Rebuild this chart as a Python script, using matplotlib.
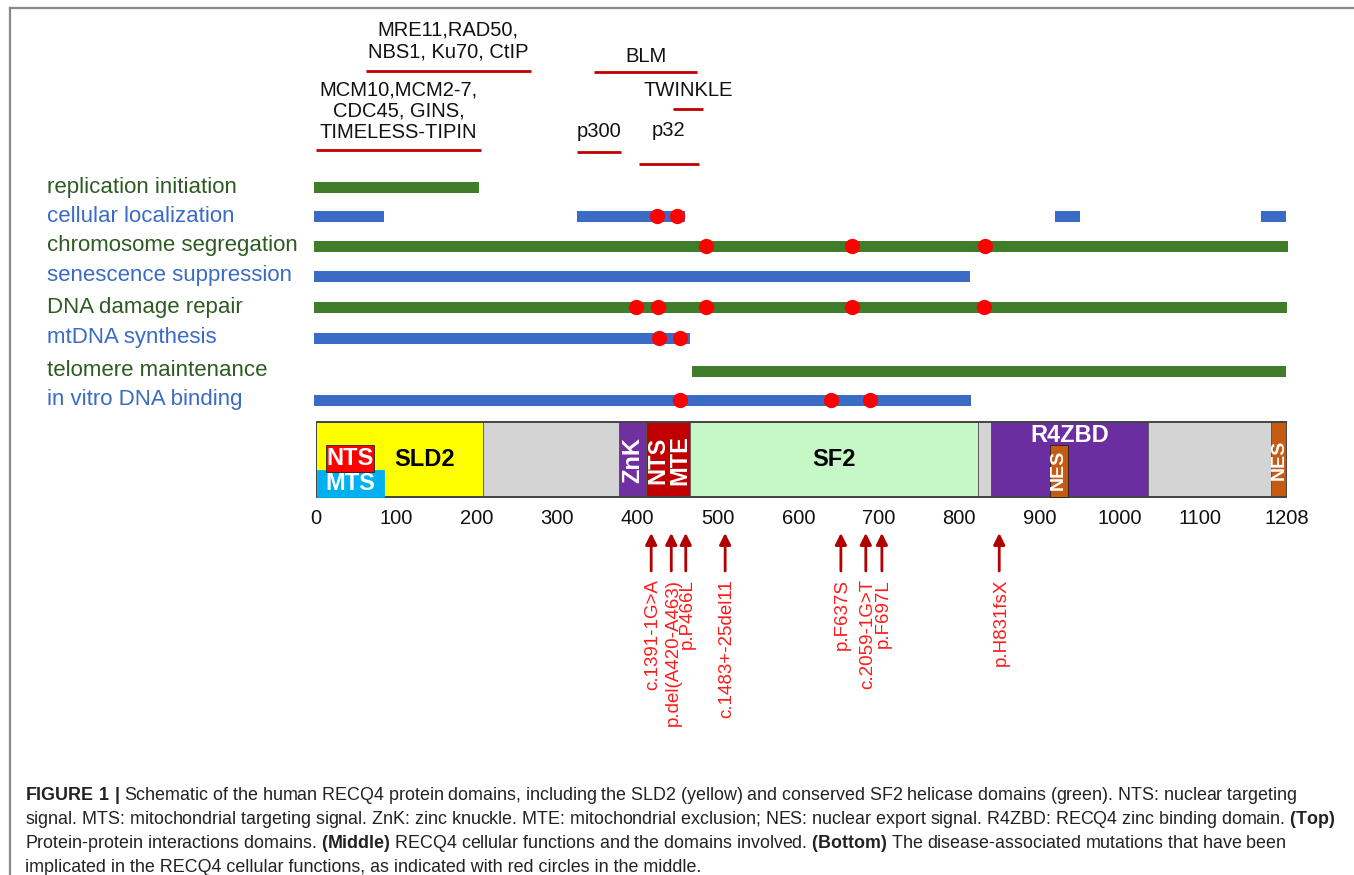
import matplotlib
matplotlib.use("Agg")
import matplotlib.pyplot as plt
from matplotlib.patches import Rectangle
from matplotlib.lines import Line2D

plt.rcParams['font.family'] = ['Liberation Sans', 'DejaVu Sans']
plt.rcParams['mathtext.fontset'] = 'custom'
plt.rcParams['mathtext.rm'] = 'Liberation Sans'
plt.rcParams['mathtext.bf'] = 'Liberation Sans:bold'

# --- data (residue numbers) ---
protein_length = 1208
tick_values = [0, 100, 200, 300, 400, 500, 600, 700, 800, 900, 1000, 1100, 1208]

interaction_labels = ["MRE11,RAD50,\nNBS1, Ku70, CtIP", "BLM", "TWINKLE",
                      "MCM10,MCM2-7,\nCDC45, GINS,\nTIMELESS-TIPIN", "p300", "p32"]
interaction_start = [62, 346, 444, 0, 325, 402]
interaction_end = [267, 474, 481, 205, 379, 476]

function_names = ["replication initiation", "cellular localization",
                  "chromosome segregation", "senescence suppression",
                  "DNA damage repair", "mtDNA synthesis",
                  "telomere maintenance", "in vitro DNA binding"]
function_segments = [
    [(-3, 203)],
    [(-3, 85), (325, 459), (919, 950), (1176, 1207)],
    [(-3, 1209)],
    [(-3, 814)],
    [(-3, 1208)],
    [(-3, 465)],
    [(468, 1207)],
    [(-3, 815)],
]
function_mutations = [
    [],
    [424, 449],
    [485, 667, 832],
    [],
    [398, 425, 485, 667, 831],
    [427, 453],
    [],
    [453, 641, 689],
]

domain_names = ["SLD2", "", "ZnK", "NTS\nMTE", "SF2", "", "R4ZBD", "", "NES"]
domain_start = [0, 208, 377, 410, 465, 823, 840, 1035, 1188]
domain_end = [208, 377, 410, 465, 823, 840, 1035, 1188, 1208]

signal_names = ["MTS", "NTS", "NES"]
signal_start = [1, 12, 913]
signal_end = [85, 72, 935]

mutation_labels = ["c.1391-1G>A", "p.del(A420-A463)", "p.P466L", "c.1483+-25del11",
                   "p.F637S", "c.2059-1G>T", "p.F697L", "p.H831fsX"]
mutation_pos = [417, 442, 460, 509, 653, 684, 704, 850]

caption_lines = [
    r"$\mathbf{FIGURE\ 1\ |}$ Schematic of the human RECQ4 protein domains, including the SLD2 (yellow) and conserved SF2 helicase domains (green). NTS: nuclear targeting",
    r"signal. MTS: mitochondrial targeting signal. ZnK: zinc knuckle. MTE: mitochondrial exclusion; NES: nuclear export signal. R4ZBD: RECQ4 zinc binding domain. $\mathbf{(Top)}$",
    r"Protein-protein interactions domains. $\mathbf{(Middle)}$ RECQ4 cellular functions and the domains involved. $\mathbf{(Bottom)}$ The disease-associated mutations that have been",
    r"implicated in the RECQ4 cellular functions, as indicated with red circles in the middle.",
]

# --- styles / layout (y in pixels from top) ---
GREEN, BLUE = '#3f7d2b', '#3a6cc6'
GREEN_TXT, BLUE_TXT = '#2e5b22', '#3a6bc5'
LINE_RED = '#c00000'
domain_colors = ['#ffff00', '#d4d4d4', '#7030a0', '#c00000', '#c6f7c6',
                 '#d4d4d4', '#6a2ea0', '#d4d4d4', '#c55a11']
signal_colors = ['#00b0f0', '#ff0000', '#c55a11']

W, H = 1354, 875
fig = plt.figure(figsize=(W / 100, H / 100), dpi=100)
ax = fig.add_axes([316 / W, 0, 971 / W, 1])
ax.set_xlim(0, protein_length)
ax.set_ylim(H, 0)
ax.axis('off')

# frame
fig.add_artist(Line2D([9.5 / W, 9.5 / W], [0, 1 - 7.5 / H], transform=fig.transFigure,
                      color='#888888', lw=1.6))
fig.add_artist(Line2D([9.5 / W, 1], [1 - 7.5 / H, 1 - 7.5 / H], transform=fig.transFigure,
                      color='#888888', lw=1.6))

# --- top: protein-protein interactions ---
inter_line_y = [71, 72, 109, 150, 152, 164]
inter_text_y = [57, 62, 96, 138, 137, 136]
for lab, s, e, ly, ty in zip(interaction_labels, interaction_start, interaction_end,
                             inter_line_y, inter_text_y):
    ax.plot([s, e], [ly, ly], color=LINE_RED, lw=2.0, solid_capstyle='butt', clip_on=False)
    ax.text((s + e) / 2, ty, lab, ha='center', va='baseline', fontsize=14.5,
            linespacing=1.15, color='#111111')

# --- middle: cellular functions ---
row_y = [187, 216, 246, 276, 307, 338, 371, 400]
for i, (name, segs, muts) in enumerate(zip(function_names, function_segments,
                                           function_mutations)):
    col = GREEN if i % 2 == 0 else BLUE
    tcol = GREEN_TXT if i % 2 == 0 else BLUE_TXT
    y = row_y[i]
    for s, e in segs:
        ax.barh(y, e - s, left=s, height=11, color=col, clip_on=False)
    if muts:
        ax.plot(muts, [y] * len(muts), 'o', color='#ff0000', ms=11, mec='none',
                clip_on=False)
    fig.text(47 / W, 1 - y / H, name, ha='left', va='center', fontsize=16, color=tcol)

# --- domain bar ---
bar_top, bar_bot = 422, 497
for name, s, e, c in zip(domain_names, domain_start, domain_end, domain_colors):
    ax.add_patch(Rectangle((s, bar_top), e - s, bar_bot - bar_top, facecolor=c,
                           edgecolor='#555555', lw=0.6))
ax.add_patch(Rectangle((0, bar_top), protein_length, bar_bot - bar_top, facecolor='none',
                       edgecolor='#444444', lw=1.4))

sig_y = [(470, 497), (445, 472), (445, 497)]
for name, s, e, c, (t, b) in zip(signal_names, signal_start, signal_end, signal_colors, sig_y):
    ax.add_patch(Rectangle((s, t), e - s, b - t, facecolor=c,
                           edgecolor='#222222' if name != 'MTS' else c, lw=0.6))

bold = dict(fontweight='bold', ha='center', va='center', fontsize=17)
ax.text(135, 460, domain_names[0], color='black', **bold)
ax.text((domain_start[2] + domain_end[2]) / 2, 460, domain_names[2], color='white',
        rotation=90, **bold)
ax.text((domain_start[3] + domain_end[3]) / 2 + 1, 460, domain_names[3], color='white',
        rotation=90, linespacing=0.95, **bold)
ax.text((domain_start[4] + domain_end[4]) / 2, 460, domain_names[4], color='black', **bold)
ax.text((domain_start[6] + domain_end[6]) / 2, 435, domain_names[6], color='white', **bold)
ax.text((domain_start[8] + domain_end[8]) / 2, 460, domain_names[8], color='white',
        rotation=90, **dict(bold, fontsize=14))
for name, s, e, (t, b) in zip(signal_names, signal_start, signal_end, sig_y):
    if name == 'NES':
        ax.text((s + e) / 2, 470, name, color='white', rotation=90,
                **dict(bold, fontsize=14))
    else:
        ax.text((s + e) / 2, (t + b) / 2, name, color='white', **bold)

for v in tick_values:
    ax.text(v, 518, str(v), ha='center', va='center', fontsize=14.5, color='#111111')

# --- bottom: mutations ---
for lab, p in zip(mutation_labels, mutation_pos):
    ax.annotate('', xy=(p, 533), xytext=(p, 571),
                arrowprops=dict(arrowstyle='-|>', color='#b00000', lw=2.0,
                                mutation_scale=17, shrinkA=0, shrinkB=0),
                annotation_clip=False)
    ax.text(p + 2, 579, lab, rotation=90, ha='center', va='top', fontsize=13.5,
            color='#ff1a1a')

# --- caption ---
for k, line in enumerate(caption_lines):
    fig.text(25 / W, 1 - (800 + 24 * k) / H, line, ha='left', va='baseline',
             fontsize=12.9, color='#222222')

fig.savefig('out.png', dpi=100)
